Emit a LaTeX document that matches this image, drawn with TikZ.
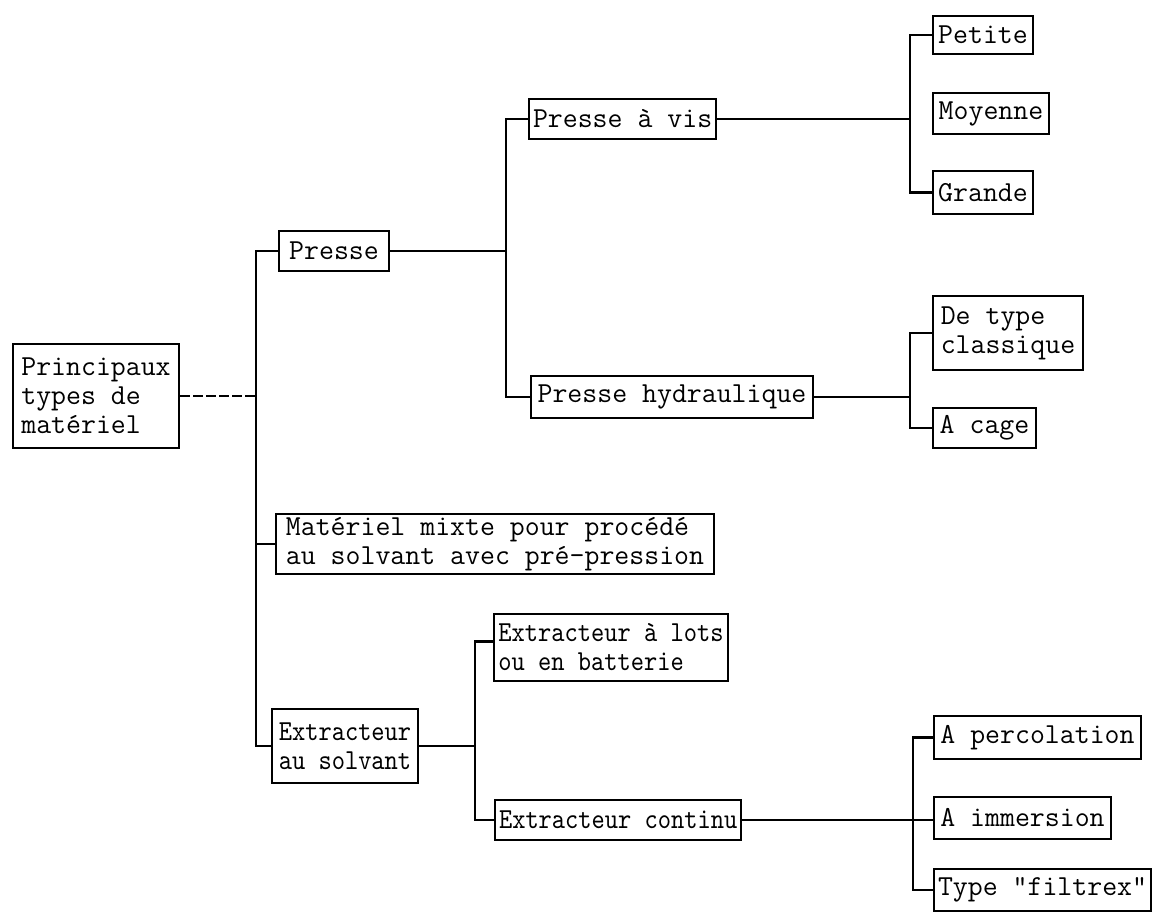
\documentclass[tikz,border=0pt]{standalone}
\usepackage{fontspec}
\newfontfamily\narrowtt{lmmono10-regular}[Extension=.otf,FakeStretch=0.87]
\begin{document}
\begin{tikzpicture}[x=1pt,y=1pt,
  bx/.style={draw,line width=2pt,anchor=north west,align=left,inner xsep=4pt,inner ysep=0pt,
    font=\ttfamily\fontsize{29}{29}\selectfont},
  bxs/.style={bx,font=\narrowtt\fontsize{29}{29}\selectfont},
  ln/.style={line width=2.4pt},
  every path/.style={line join=miter}]
\useasboundingbox (0,0) rectangle (1155,-913);
% level 0
\node[bx,minimum width=166pt,minimum height=104pt] (root) at (12,-343) {Principaux\\types de\\matériel};
% level 1
\node[bx,minimum width=110pt,minimum height=40pt] (presse) at (278,-230) {Presse};
\node[bx,minimum width=438pt,minimum height=60pt] (mixte) at (275,-513) {Matériel mixte pour procédé\\au solvant avec pré-pression};
\node[bxs,minimum width=146pt,minimum height=74pt] (extsol) at (271,-708) {Extracteur\\au solvant};
% level 2
\node[bx,minimum width=187pt,minimum height=40pt] (pvis) at (528,-98) {Presse à vis};
\node[bx,minimum width=282pt,minimum height=42pt] (phyd) at (530,-375) {Presse hydraulique};
\node[bxs,minimum width=234pt,minimum height=67pt] (lots) at (493,-613) {Extracteur à lots\\ou en batterie};
\node[bxs,minimum width=241pt,minimum height=40pt] (continu) at (494,-799) {Extracteur continu};
% level 3
\node[bx,minimum width=100pt,minimum height=38pt] (petite) at (932,-15) {Petite};
\node[bx,minimum width=116pt,minimum height=41pt] (moyenne) at (932,-92) {Moyenne};
\node[bx,minimum width=100pt,minimum height=43pt] (grande) at (932,-170) {Grande};
\node[bx,minimum width=150pt,minimum height=74pt] (classique) at (932,-295) {De type\\classique};
\node[bx,minimum width=103pt,minimum height=40pt] (cage) at (932,-407) {A cage};
\node[bx,minimum width=207pt,minimum height=43pt] (perc) at (933,-715) {A percolation};
\node[bx,minimum width=177pt,minimum height=42pt] (imm) at (933,-796) {A immersion};
\node[bx,minimum width=217pt,minimum height=42pt] (filtrex) at (933,-868) {Type "filtrex"};
% junction columns
\coordinate (sp) at (256,0);
\coordinate (sq) at (506,0);
\coordinate (sr) at (910,0);
\coordinate (ss) at (475,0);
\coordinate (st) at (913,0);
% connectors
\draw[ln,dashed,dash pattern=on 10pt off 3pt] (root.east) -- (sp |- root.east);
\draw[ln] (presse.west) -| (sp |- extsol.west) -- (extsol.west);
\draw[ln] (mixte.west) -- (sp |- mixte.west);
\draw[ln] (presse.east) -- (sq |- presse.east);
\draw[ln] (pvis.west) -| (sq |- phyd.west) -- (phyd.west);
\draw[ln] (pvis.east) -- (sr |- pvis.east);
\draw[ln] (petite.west) -| (sr |- grande.west) -- (grande.west);
\draw[ln] (phyd.east) -- (sr |- phyd.east);
\draw[ln] (classique.west) -| (sr |- cage.west) -- (cage.west);
\draw[ln] (extsol.east) -- (ss |- extsol.east);
\draw[ln] ([yshift=6pt]lots.west) -| (ss |- continu.west) -- (continu.west);
\draw[ln] (continu.east) -- (imm.west |- continu.east);
\draw[ln] (perc.west) -| (st |- filtrex.west) -- (filtrex.west);
\end{tikzpicture}
\end{document}
